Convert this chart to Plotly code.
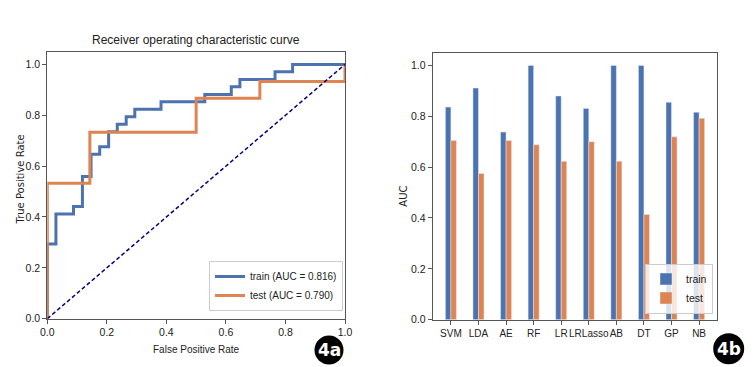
import plotly.graph_objects as go

# ---------------- data ----------------
train_fpr = [0.0, 0.0, 0.029, 0.088, 0.118, 0.147, 0.176, 0.206, 0.235, 0.265, 0.294,
             0.382, 0.529, 0.618, 0.647, 0.765, 0.824, 1.0]
train_tpr = [0.0, 0.294, 0.412, 0.441, 0.559, 0.647, 0.676, 0.735, 0.765, 0.794, 0.824,
             0.853, 0.882, 0.912, 0.941, 0.971, 1.0, 1.0]
test_fpr = [0.0, 0.0, 0.143, 0.5, 0.714, 1.0]
test_tpr = [0.0, 0.533, 0.733, 0.867, 0.933, 1.0]
train_label = "train (AUC = 0.816)"
test_label = "test (AUC = 0.790)"

models = ["SVM", "LDA", "AE", "RF", "LR", "LRLasso", "AB", "DT", "GP", "NB"]
auc_train = [0.836, 0.911, 0.738, 1.0, 0.880, 0.831, 1.0, 1.0, 0.855, 0.816]
auc_test = [0.705, 0.575, 0.705, 0.688, 0.623, 0.700, 0.623, 0.414, 0.719, 0.792]

roc_ticks = [0.0, 0.2, 0.4, 0.6, 0.8, 1.0]

BLUE = "#4c72b0"
ORANGE = "#dd8452"
FONT = "Liberation Sans, Arial, sans-serif"
W, H = 755, 367

def px_x(v):
    return v / W

def px_y(v):
    return 1 - v / H

fig = go.Figure()

# ROC curves
fig.add_trace(go.Scatter(x=train_fpr, y=train_tpr, mode="lines", line_shape="hv",
                         line=dict(color=BLUE, width=3), name=train_label,
                         xaxis="x", yaxis="y", legend="legend"))
fig.add_trace(go.Scatter(x=test_fpr, y=test_tpr, mode="lines", line_shape="hv",
                         line=dict(color=ORANGE, width=3), name=test_label,
                         xaxis="x", yaxis="y", legend="legend"))
fig.add_trace(go.Scatter(x=[0, 1], y=[0, 1], mode="lines",
                         line=dict(color="navy", width=1.5, dash="4px,2.5px"),
                         showlegend=False, xaxis="x", yaxis="y", hoverinfo="skip"))

# AUC bars
fig.add_trace(go.Bar(x=models, y=auc_train, name="train", marker_color=BLUE,
                     xaxis="x2", yaxis="y2", legend="legend2"))
fig.add_trace(go.Bar(x=models, y=auc_test, name="test", marker_color=ORANGE,
                     xaxis="x2", yaxis="y2", legend="legend2"))

axis_common = dict(showline=True, mirror=True, linecolor="#555", linewidth=1,
                   ticks="outside", ticklen=4, tickcolor="#555", showgrid=False,
                   zeroline=False, automargin=False,
                   tickfont=dict(family=FONT, size=10.5, color="#222"))

fig.update_layout(
    width=W, height=H, autosize=False,
    margin=dict(l=0, r=0, t=0, b=0, autoexpand=False),
    paper_bgcolor="white", plot_bgcolor="white",
    barmode="group", bargap=0.6, bargroupgap=0,
    xaxis=dict(domain=[px_x(47.3), px_x(345)], range=[0, 1], tickvals=roc_ticks,
               tickformat=".1f", anchor="y", **axis_common),
    yaxis=dict(domain=[px_y(318.7), px_y(51.7)], range=[0, 1.05], tickvals=roc_ticks,
               tickformat=".1f", anchor="x", **axis_common),
    xaxis2=dict(domain=[px_x(432.7), px_x(717.3)], type="category", range=[-0.66, 9.66],
                anchor="y2", tickangle=0,
                **{**axis_common, "tickfont": dict(family=FONT, size=10, color="#222")}),
    yaxis2=dict(domain=[px_y(319.7), px_y(52.7)], range=[0, 1.05], tickvals=roc_ticks,
                tickformat=".1f", anchor="x2", **axis_common),
    legend=dict(x=px_x(343), y=px_y(311), xanchor="right", yanchor="bottom",
                bgcolor="rgba(255,255,255,0.8)", bordercolor="#cccccc", borderwidth=1,
                font=dict(family=FONT, size=10, color="#222"), tracegroupgap=0,
                itemwidth=30),
    legend2=dict(x=px_x(713), y=px_y(313.5), xanchor="right", yanchor="bottom",
                 bgcolor="rgba(255,255,255,0.8)", bordercolor="#cccccc", borderwidth=1,
                 font=dict(family=FONT, size=10.5, color="#222"), tracegroupgap=0,
                 itemwidth=30),
    showlegend=True,
)

annotations = [
    dict(text="Receiver operating characteristic curve", x=px_x(196), y=px_y(40),
         font=dict(family=FONT, size=12, color="#222")),
    dict(text="False Positive Rate", x=px_x(196), y=px_y(349),
         font=dict(family=FONT, size=10, color="#222")),
    dict(text="True Positive Rate", x=px_x(19.5), y=px_y(180), textangle=-90,
         font=dict(family="DejaVu Sans", size=10, color="#222")),
    dict(text="AUC", x=px_x(404), y=px_y(196.7), textangle=-90,
         font=dict(family="DejaVu Sans", size=10, color="#222")),
    dict(text="<b>4a</b>", x=px_x(329), y=px_y(350),
         font=dict(family="DejaVu Sans", size=17, color="white")),
    dict(text="<b>4b</b>", x=px_x(728.7), y=px_y(348.7),
         font=dict(family="DejaVu Sans", size=17, color="white")),
]
for a in annotations:
    a.update(xref="paper", yref="paper", showarrow=False, xanchor="center", yanchor="middle")
fig.update_layout(annotations=annotations)

shapes = []
for cx, cy, r in [(329, 350, 14.5), (728.7, 348.7, 15.5)]:
    shapes.append(dict(type="circle", xref="paper", yref="paper",
                       x0=px_x(cx - r), x1=px_x(cx + r), y0=px_y(cy + r), y1=px_y(cy - r),
                       fillcolor="black", line=dict(width=0), layer="above"))
fig.update_layout(shapes=shapes)

fig.write_html("out.html", config={"displayModeBar": False},
               post_script="document.body.style.margin='0';document.body.style.overflow='hidden';")
